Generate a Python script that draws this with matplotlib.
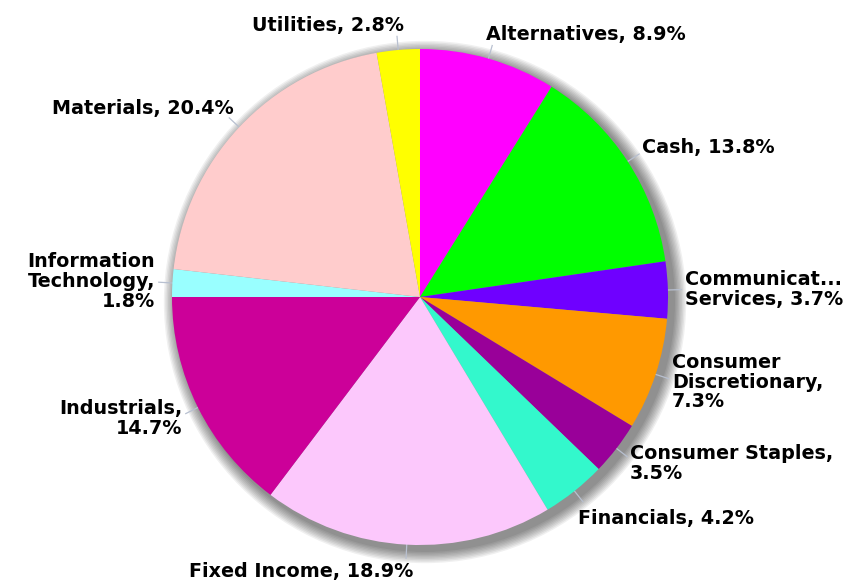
import numpy as np
import matplotlib
matplotlib.use("Agg")
import matplotlib.pyplot as plt
from matplotlib.patches import Circle

labels = ["Alternatives", "Cash", "Communicat...\nServices", "Consumer\nDiscretionary,",
          "Consumer Staples,", "Financials", "Fixed Income", "Industrials,",
          "Information\nTechnology,", "Materials", "Utilities"]
values = [8.9, 13.8, 3.7, 7.3, 3.5, 4.2, 18.9, 14.7, 1.8, 20.4, 2.8]
# separator between name and value: same line (", ") or new line
seps = [", ", ", ", ", ", "\n", "\n", ", ", ", ", "\n", "\n", ", ", ", "]
colors = ["#FF00FF", "#00FF00", "#6F00FF", "#FF9900", "#990099", "#33F8CC",
          "#FCC8FC", "#CC0099", "#99FFFF", "#FFCCCC", "#FFFF00"]

W, H = 847, 580
cx, cy, R = 420, 297, 248

fig = plt.figure(figsize=(W / 100, H / 100), dpi=100)
ax = fig.add_axes([0, 0, 1, 1])

# soft shadow
for k in range(9):
    ax.add_patch(Circle((5 / R, -5 / R), 1 + (2 + 1.4 * k) / R, color="black",
                        alpha=0.06, lw=0, zorder=1))

wedges, _ = ax.pie(values, colors=colors, startangle=90, counterclock=False,
                   radius=1, center=(0, 0), frame=True,
                   wedgeprops=dict(linewidth=0, zorder=3))
ax.set_xlim(-cx / R, (W - cx) / R)
ax.set_ylim(-(H - cy) / R, cy / R)
ax.axis("off")

for w, lab, sep, v in zip(wedges, labels, seps, values):
    ang = np.deg2rad((w.theta1 + w.theta2) / 2)
    c, s = np.cos(ang), np.sin(ang)
    ax.plot([c * 1.0, c * 1.055], [s * 1.0, s * 1.055], color="#b8c0d0",
            lw=0.9, zorder=2)
    tx = c * 1.07
    ha = "left" if c >= 0 else "right"
    if abs(s) > 0.65:
        tx -= np.sign(c) * 0.03
    if s > 0.6:
        va = "bottom"
        ty = s * 1.07 - 0.01
    elif s < -0.65:
        va = "top"
        ty = s * 1.07 - 0.03 * abs(c)
    else:
        va = "center"
        ty = s * 1.1
    ax.text(tx, ty, f"{lab}{sep}{v}%", ha=ha, va=va, multialignment=ha,
            fontsize=13.8, fontweight="bold", color="black",
            family="DejaVu Sans", linespacing=1.05, zorder=5)

fig.savefig("out.png", dpi=100)
